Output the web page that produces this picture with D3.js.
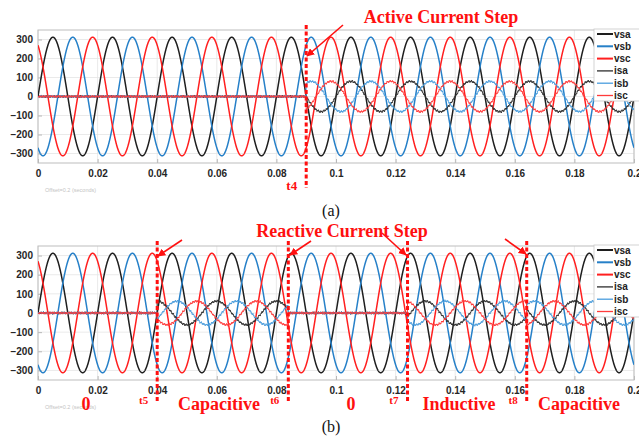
<!DOCTYPE html>
<html><head><meta charset="utf-8">
<script src="https://cdn.jsdelivr.net/npm/d3@7"></script>
<style>body{margin:0;background:#fff}svg{display:block}</style>
</head><body>
<svg id="chart" width="639" height="440"></svg>
<script>
// Three-phase source voltages and line currents (50 Hz), 0–0.2 s window
const xTicks = [0, 0.02, 0.04, 0.06, 0.08, 0.1, 0.12, 0.14, 0.16, 0.18, 0.2];
const xTickLabels = ["0", "0.02", "0.04", "0.06", "0.08", "0.1", "0.12", "0.14", "0.16", "0.18", "0.2"];
const yTicks = [-300, -200, -100, 0, 100, 200, 300];
const seriesNames = ["vsa", "vsb", "vsc", "isa", "isb", "isc"];
const phaseAngles = [0, -120, 120];          // degrees, phases a, b, c
const voltagePeak = 312;
const lineFreq = 50;
// current segments: [start s, end s, peak, angle vs. voltage in degrees]
const segmentsA = [[0, 0.09, 0, 0], [0.09, 0.2, 80, 0]];
const segmentsB = [[0, 0.04, 0, 0], [0.04, 0.084, 62, 90], [0.084, 0.124, 0, 0],
                   [0.124, 0.164, 62, -90], [0.164, 0.2, 62, 90]];
const stepTimesA = [0.09];
const stepLabelsA = ["t4"];
const stepTimesB = [0.04, 0.084, 0.124, 0.164];
const stepLabelsB = ["t5", "t6", "t7", "t8"];
const modeLabels = ["0", "Capacitive", "0", "Inductive", "Capacitive"];
// switching ripple on measured currents: [amplitude, frequency Hz, phase deg]
const ripple = [[3.2, 1150, 0], [2.2, 2730, 40], [1.6, 5300, 110], [1.2, 8900, 200]];

const colors = ["#1e1e1e", "#2680c8", "#ff1f1f", "#2e2e2e", "#4a9ede", "#ff3b3b"];
const widths = [1.5, 1.5, 1.5, 1.0, 1.0, 1.0];

const svg = d3.select("#chart");
const x = d3.scaleLinear().domain([0, 0.2]).range([38, 634]);
const dt = 0.00005;
const times = d3.range(0, 0.2 + dt / 2, dt);
const rad = Math.PI / 180;
const w = 2 * Math.PI * lineFreq;

function voltage(k, t) { return voltagePeak * Math.sin(w * t + phaseAngles[k] * rad); }
function current(segs, k, t) {
  const s = segs.find(d => t >= d[0] && t < d[1]) || segs[segs.length - 1];
  let v = s[2] * Math.sin(w * t + (phaseAngles[k] + s[3]) * rad);
  ripple.forEach((r, j) => { v += r[0] * Math.sin(2 * Math.PI * r[1] * t + (r[2] + k * 77 + j * 31) * rad); });
  return v;
}

function panel(id, top, bottom, segs, stepTimes, stepLabels, labelDy, labelSize, lineExt) {
  const y = d3.scaleLinear().domain([-350, 350]).range([bottom, top]);
  const g = svg.append("g");
  g.append("clipPath").attr("id", "clip" + id).append("rect")
    .attr("x", 38).attr("y", top).attr("width", 596).attr("height", bottom - top);
  // grid
  g.append("g").selectAll("line").data(xTicks).join("line")
    .attr("x1", d => x(d)).attr("x2", d => x(d)).attr("y1", top).attr("y2", bottom)
    .attr("stroke", "#e4e4e4").attr("stroke-width", 0.8);
  g.append("g").selectAll("line").data(yTicks).join("line")
    .attr("x1", 38).attr("x2", 634).attr("y1", d => y(d)).attr("y2", d => y(d))
    .attr("stroke", "#e4e4e4").attr("stroke-width", 0.8);
  // axes
  const ax = g.append("g").attr("transform", `translate(0,${bottom})`)
    .call(d3.axisBottom(x).tickValues(xTicks).tickFormat((d, i) => xTickLabels[i]).tickSizeInner(-4).tickSizeOuter(0).tickPadding(7));
  const ay = g.append("g").attr("transform", `translate(38,0)`)
    .call(d3.axisLeft(y).tickValues(yTicks).tickSizeInner(-4).tickSizeOuter(0).tickPadding(5));
  [ax, ay].forEach(a => {
    a.select(".domain").remove();
    a.selectAll("line").attr("stroke", "#b8b8b8");
    a.selectAll("text").attr("font-family", "Liberation Sans, Arial").attr("font-weight", "bold")
      .attr("font-size", 10).attr("fill", "#262626");
  });
  g.append("rect").attr("x", 38).attr("y", top).attr("width", 596).attr("height", bottom - top)
    .attr("fill", "none").attr("stroke", "#bdbdbd").attr("stroke-width", 1);
  // waveforms
  const line = d3.line().x(d => x(d[0])).y(d => y(d[1]));
  const plot = g.append("g").attr("clip-path", `url(#clip${id})`);
  [0, 1, 2, 3, 4, 5].forEach(k => {
    const pts = times.map(t => [t, k < 3 ? voltage(k, t) : current(segs, k - 3, t)]);
    plot.append("path").attr("d", line(pts)).attr("fill", "none")
      .attr("stroke", colors[k]).attr("stroke-width", widths[k]).attr("stroke-linejoin", "round");
  });
  // step markers
  stepTimes.forEach((t, i) => {
    g.append("line").attr("x1", x(t)).attr("x2", x(t)).attr("y1", top - 5).attr("y2", bottom + lineExt)
      .attr("stroke", "#ff1010").attr("stroke-width", 3).attr("stroke-dasharray", "4,2.5");
    g.append("text").attr("x", x(t) - 9).attr("y", bottom + labelDy).attr("text-anchor", "end")
      .attr("font-family", "Liberation Serif, Times New Roman").attr("font-weight", "bold")
      .attr("font-size", labelSize).attr("fill", "#ff1010").text(stepLabels[i]);
  });
  // legend
  const lg = g.append("g");
  lg.append("rect").attr("x", 594).attr("y", top - 1).attr("width", 50).attr("height", 72)
    .attr("fill", "#fff").attr("stroke", "#c8c8c8").attr("stroke-width", 0.8);
  seriesNames.forEach((n, k) => {
    const yy = top + 4 + k * 12.3;
    lg.append("line").attr("x1", 597).attr("x2", 613).attr("y1", yy).attr("y2", yy)
      .attr("stroke", colors[k]).attr("stroke-width", k < 3 ? 2 : 1.3);
    lg.append("text").attr("x", 614).attr("y", yy + 3.5).attr("font-family", "Liberation Sans, Arial")
      .attr("font-weight", "bold").attr("font-size", 10).attr("fill", "#222").text(n);
  });
  // time offset note
  g.append("text").attr("x", 45).attr("y", bottom + 29).attr("font-family", "Liberation Sans, Arial")
    .attr("font-size", 5.5).attr("fill", "#c4c4c4").text("Offset=0.2 (seconds)");
  return y;
}

panel("A", 30, 163, segmentsA, stepTimesA, stepLabelsA, 27, 13, 25);
panel("B", 246, 380, segmentsB, stepTimesB, stepLabelsB, 24, 11, 23);

// annotations
const serif = "Liberation Serif, Times New Roman";
svg.append("defs").append("marker").attr("id", "head").attr("viewBox", "0 0 10 10")
  .attr("refX", 9).attr("refY", 5).attr("markerWidth", 5).attr("markerHeight", 5).attr("orient", "auto")
  .append("path").attr("d", "M0,0L10,5L0,10z").attr("fill", "#ff1010");
function arrow(x1, y1, x2, y2) {
  svg.append("line").attr("x1", x1).attr("y1", y1).attr("x2", x2).attr("y2", y2)
    .attr("stroke", "#ff1010").attr("stroke-width", 1.6).attr("marker-end", "url(#head)");
}
svg.append("text").attr("x", 441).attr("y", 23).attr("text-anchor", "middle")
  .attr("font-family", serif).attr("font-weight", "bold").attr("font-size", 18).attr("fill", "#ff1010")
  .text("Active Current Step");
arrow(343, 25, 307, 56);
svg.append("text").attr("x", 342).attr("y", 237).attr("text-anchor", "middle")
  .attr("font-family", serif).attr("font-weight", "bold").attr("font-size", 18).attr("fill", "#ff1010")
  .text("Reactive Current Step");
arrow(182, 240, 158, 256);
arrow(311, 241, 290, 255);
arrow(382, 233, 406, 255);
arrow(505, 239, 526, 254);
const modeX = [86, 219, 351, 459, 579];
modeLabels.forEach((m, i) => {
  svg.append("text").attr("x", modeX[i]).attr("y", 410).attr("text-anchor", "middle")
    .attr("font-family", serif).attr("font-weight", "bold").attr("font-size", 18).attr("fill", "#ff1010").text(m);
});
[["(a)", 216], ["(b)", 432]].forEach(c => {
  svg.append("text").attr("x", 331).attr("y", c[1]).attr("text-anchor", "middle")
    .attr("font-family", serif).attr("font-size", 16).attr("fill", "#111").text(c[0]);
});
</script>
</body></html>
